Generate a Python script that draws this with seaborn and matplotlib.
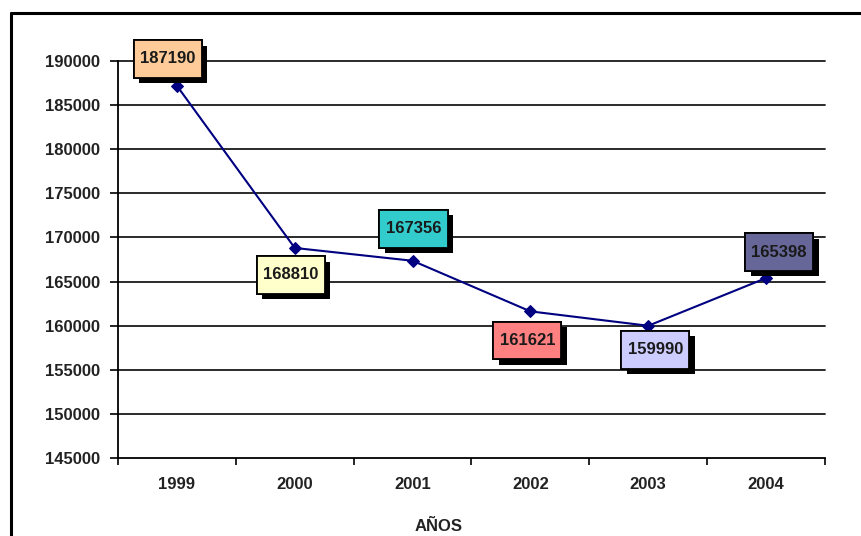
import matplotlib
matplotlib.use("Agg")
import matplotlib.pyplot as plt
import matplotlib.patheffects as pe
from matplotlib.lines import Line2D
from matplotlib.path import Path
import seaborn as sns
import pandas as pd
import numpy as np

# Series
years = ["1999", "2000", "2001", "2002", "2003", "2004"]
values = [187190, 168810, 167356, 161621, 159990, 165398]
box_colors = ["#FFCC99", "#FFFFCC", "#33CCCC", "#FF8080", "#CCCCFF", "#666699"]
# label offsets (pixels) from each point
label_offsets = [(-9, 27), (-4, -27), (1, 32), (-3, -29), (7, -24), (13, 26)]
y_ticks = [145000, 150000, 155000, 160000, 165000, 170000, 175000, 180000, 185000, 190000]

sns.set_theme(style="white")
plt.rcParams["font.family"] = ["Liberation Sans", "DejaVu Sans"]
plt.rcParams["font.weight"] = "bold"

FS = 12


def label_box(x0, y0, width, height, mutation_size):
    """Rectangle with wider vertical than horizontal padding."""
    padx = 0.38 * mutation_size
    pady = 0.68 * mutation_size
    x0, y0 = x0 - padx, y0 - pady
    x1, y1 = x0 + width + 2 * padx, y0 + height + 2 * pady
    return Path([(x0, y0), (x1, y0), (x1, y1), (x0, y1), (x0, y0)], closed=True)


df = pd.DataFrame({"pos": np.arange(len(years)), "valor": values})

fig = plt.figure(figsize=(8.62, 5.36), dpi=100)
fig.patch.set_facecolor("white")
ax = fig.add_axes([118 / 862, 78 / 536, 707 / 862, 397 / 536])
ax.set_facecolor("white")

sns.lineplot(data=df, x="pos", y="valor", ax=ax, color="#000080", linewidth=1.5,
             marker="D", markersize=6, markeredgecolor="#000080", zorder=3)

ax.set_xlim(-0.5, len(years) - 0.5)
ax.set_ylim(145000, 190000)
ax.set_yticks(y_ticks)
ax.set_yticklabels([str(v) for v in y_ticks], fontsize=FS, fontweight="bold", color="#222222")
ax.set_xticks(np.arange(len(years)))
ax.set_xticklabels(years, fontsize=FS, fontweight="bold", color="#222222")
ax.set_xticks(np.arange(len(years) + 1) - 0.5, minor=True)

ax.tick_params(axis="y", which="major", length=6, width=1.2, color="black", pad=7, left=True)
ax.tick_params(axis="x", which="major", length=0, pad=14, bottom=True)
ax.tick_params(axis="x", which="minor", length=5, width=1.2, color="black", bottom=True)

for v in y_ticks[1:]:
    ax.axhline(v, color="#1a1a1a", linewidth=1.3, zorder=1, clip_on=False)

for s in ["top", "right"]:
    ax.spines[s].set_visible(False)
for s in ["left", "bottom"]:
    ax.spines[s].set_color("black")
    ax.spines[s].set_linewidth(1.3)

ax.set_ylabel("")
ax.set_xlabel("AÑOS", fontsize=FS, fontweight="bold", color="#222222")
ax.xaxis.set_label_coords(0.453, -0.153)

# value boxes with drop shadow
for i, (v, c, (dx, dy)) in enumerate(zip(values, box_colors, label_offsets)):
    t = ax.annotate(str(v), xy=(i, v), xytext=(dx, dy), textcoords="offset pixels",
                    ha="center", va="center", fontsize=FS, fontweight="bold",
                    color="#1a1a1a", zorder=5, annotation_clip=False,
                    bbox=dict(boxstyle=label_box, facecolor=c,
                              edgecolor="black", linewidth=1.3))
    t.get_bbox_patch().set_path_effects([
        pe.withSimplePatchShadow(offset=(4, -4), shadow_rgbFace="black", alpha=1.0),
        pe.Normal(),
    ])

# outer frame
fx = 11 / 862
fy = 1 - 13 / 536
fig.add_artist(Line2D([fx, 1.0], [fy, fy], transform=fig.transFigure, color="black", linewidth=2.2))
fig.add_artist(Line2D([fx, fx], [0.0, fy], transform=fig.transFigure, color="black", linewidth=2.2))

fig.savefig("out.png", dpi=100, facecolor="white")
